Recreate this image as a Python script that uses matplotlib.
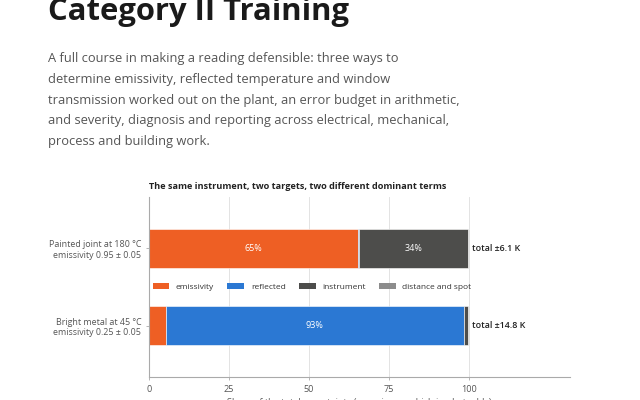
import matplotlib
matplotlib.use("Agg")
import matplotlib.pyplot as plt
from matplotlib.patches import Patch

plt.rcParams["font.family"] = ["Open Sans", "DejaVu Sans"]

# Data
targets = ["Painted joint at 180 °C\nemissivity 0.95 ± 0.05",
           "Bright metal at 45 °C\nemissivity 0.25 ± 0.05"]
terms = ["emissivity", "reflected", "instrument", "distance and spot"]
emissivity = [65.4, 5.3]
reflected = [0.3, 93.1]
instrument = [34.0, 1.5]
distance = [0.3, 0.1]
totals = ["total ±6.1 K", "total ±14.8 K"]
xticks = [0, 25, 50, 75, 100]

colors = ["#ee5f24", "#2b78d3", "#4d4d4b", "#8c8c8c"]
series = [emissivity, reflected, instrument, distance]

fig = plt.figure(figsize=(6.4, 4), dpi=100)

# page heading and intro text
fig.text(48 / 640, 1 - 20 / 400, "Category II Training", fontsize=22.3,
         fontweight="bold", color="#1a1a1a", ha="left", va="baseline")
intro = ("A full course in making a reading defensible: three ways to\n"
         "determine emissivity, reflected temperature and window\n"
         "transmission worked out on the plant, an error budget in arithmetic,\n"
         "and severity, diagnosis and reporting across electrical, mechanical,\n"
         "process and building work.")
fig.text(48 / 640, 1 - 52 / 400, intro, fontsize=9.3, color="#555555",
         ha="left", va="top", linespacing=1.78)

ax = fig.add_axes([149 / 640, 1 - 377 / 400, (570 - 149) / 640, 180 / 400])

ypos = [0, 1]
left = [0, 0]
for name, vals, c in zip(terms, series, colors):
    ax.barh(ypos, vals, left=left, height=0.5, color=c, label=name,
            edgecolor="white", linewidth=0.4)
    for y, v, l in zip(ypos, vals, left):
        if v >= 20:
            ax.text(l + v / 2, y, f"{v:.0f}%", ha="center", va="center",
                    color="white", fontsize=6.5)
    left = [a + b for a, b in zip(left, vals)]

for y, t, l in zip(ypos, totals, left):
    ax.text(l + 1.0, y, t, ha="left", va="center", fontsize=6.4,
            fontweight="semibold", color="#222222")

ax.set_xlim(0, 131.7)
ax.set_ylim(1.66, -0.66)
ax.set_yticks(ypos)
ax.set_yticklabels(targets, fontsize=6.4, color="#555555", linespacing=1.2)
ax.set_xticks(xticks)
ax.set_xticklabels([str(x) for x in xticks], fontsize=6.6, color="#555555")
ax.tick_params(axis="both", length=2.5, width=0.6, color="#aaaaaa", pad=3)
ax.grid(axis="x", color="#e3e3e3", linewidth=0.7)
ax.set_axisbelow(True)
for s in ["top", "right"]:
    ax.spines[s].set_visible(False)
for s in ["left", "bottom"]:
    ax.spines[s].set_color("#aaaaaa")
    ax.spines[s].set_linewidth(0.8)

ax.set_title("The same instrument, two targets, two different dominant terms",
             fontsize=6.6, fontweight="bold", color="#222222", loc="left",
             pad=6)
ax.set_xlabel("Share of the total uncertainty (as variance, which is what adds)",
              fontsize=6.6, color="#555555", labelpad=3)

handles = [Patch(facecolor=c, label=n) for n, c in zip(terms, colors)]
ax.legend(handles=handles, loc="center", bbox_to_anchor=(51, 0.5),
          bbox_transform=ax.transData, ncol=4, frameon=False, fontsize=6.0,
          handlelength=2.0, handleheight=0.6, columnspacing=1.6,
          handletextpad=0.8, labelcolor="#333333")

fig.savefig("out.png", dpi=100)
